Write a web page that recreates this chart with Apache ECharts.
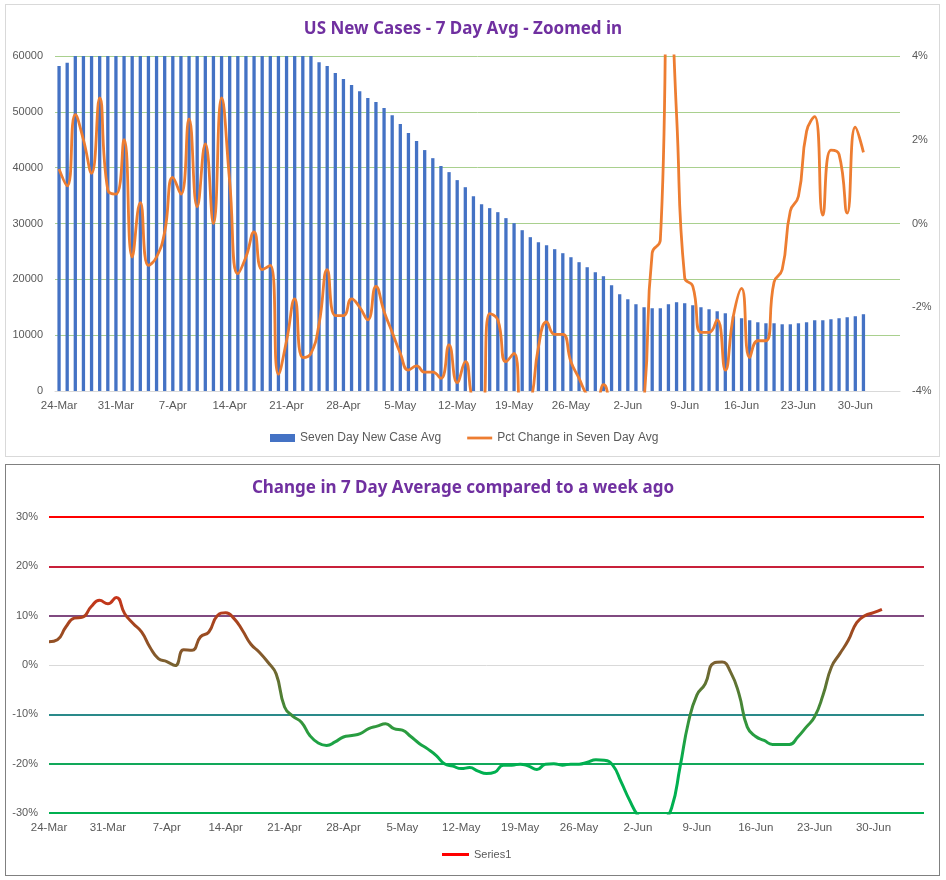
<!DOCTYPE html>
<html>
<head>
<meta charset="utf-8">
<script src="https://cdn.jsdelivr.net/npm/echarts@6/dist/echarts.min.js"></script>
<style>
html,body{margin:0;padding:0;background:#fff;width:946px;height:880px;overflow:hidden;}
#c1{position:absolute;left:5px;top:4px;width:935px;height:453px;border:1px solid #D9D9D9;box-sizing:border-box;}
#c2{position:absolute;left:5px;top:464px;width:935px;height:412px;border:1px solid #808080;box-sizing:border-box;}
</style>
</head>
<body>
<div id="c1"></div>
<div id="c2"></div>
<script>
// ---- data ----
const dates = [
 '24-Mar','25-Mar','26-Mar','27-Mar','28-Mar','29-Mar','30-Mar','31-Mar',
 '1-Apr','2-Apr','3-Apr','4-Apr','5-Apr','6-Apr','7-Apr','8-Apr','9-Apr','10-Apr',
 '11-Apr','12-Apr','13-Apr','14-Apr','15-Apr','16-Apr','17-Apr','18-Apr','19-Apr','20-Apr',
 '21-Apr','22-Apr','23-Apr','24-Apr','25-Apr','26-Apr','27-Apr','28-Apr','29-Apr','30-Apr',
 '1-May','2-May','3-May','4-May','5-May','6-May','7-May','8-May','9-May','10-May',
 '11-May','12-May','13-May','14-May','15-May','16-May','17-May','18-May','19-May','20-May',
 '21-May','22-May','23-May','24-May','25-May','26-May','27-May','28-May','29-May','30-May','31-May',
 '1-Jun','2-Jun','3-Jun','4-Jun','5-Jun','6-Jun','7-Jun','8-Jun','9-Jun','10-Jun',
 '11-Jun','12-Jun','13-Jun','14-Jun','15-Jun','16-Jun','17-Jun','18-Jun','19-Jun','20-Jun',
 '21-Jun','22-Jun','23-Jun','24-Jun','25-Jun','26-Jun','27-Jun','28-Jun','29-Jun','30-Jun',
 '1-Jul','2-Jul','3-Jul','4-Jul','5-Jul','6-Jul'
];

const caseAvg = [
 58200, 58800, 60800, 61500, 62300, 63100, 63300, 63700,
 64900, 64600, 65000, 64400, 64300, 64500, 65200, 66600, 66900, 68100,
 69000, 69300, 70400, 71000, 71500, 71200, 70500, 69900, 67500, 66500,
 64800, 63300, 61800, 60600, 58900, 58200, 56950, 55900, 54800, 53700,
 52500, 51750, 50700, 49400, 47800, 46200, 44760, 43150, 41700, 40300,
 39200, 37770, 36500, 34900, 33470, 32750, 32030, 30960, 30060, 28800,
 27550, 26650, 26110, 25400, 24680, 23960, 23070, 22170, 21270, 20560, 18940,
 17330, 16430, 15540, 15000, 14820, 14820, 15540, 15900, 15720, 15360,
 15000, 14640, 14280, 13920, 13390, 13030, 12670, 12310, 12130, 12130,
 11950, 11950, 12130, 12310, 12670, 12670, 12850, 13030, 13210, 13390,
 13750
];

const pctChange = [
 1.3, 0.9, 2.6, 2.0, 1.2, 3.0, 0.8, 0.7,
 2.0, -0.8, 0.5, -1.0, -0.8, -0.2, 1.1, 0.7, 2.5, 0.4,
 1.9, 0.0, 3.0, 1.0, -1.2, -0.8, -0.2, -1.1, -1.0, -3.6,
 -2.8, -1.8, -3.2, -3.1, -2.4, -1.1, -2.2, -2.2, -1.8, -2.0,
 -2.3, -1.5, -2.1, -2.6, -3.1, -3.5, -3.4, -3.55, -3.55, -3.7,
 -2.9, -3.8, -3.3, -4.3, -4.5, -2.15, -2.3, -3.3, -3.1, -4.6,
 -4.3, -2.95, -2.35, -2.65, -2.65, -3.3, -3.7, -4.1, -4.3, -3.85, -4.5,
 -5.0, -5.5, -5.0, -4.2, -0.7, -0.4, 6.5, 2.6, -1.3, -1.5,
 -2.6, -2.6, -2.3, -3.5, -2.2, -1.55, -3.2, -2.8, -2.8, -1.4,
 -1.1, 0.3, 0.65, 2.2, 2.55, 0.2, 1.75, 1.65, 0.25, 2.3,
 1.7
];

const weekChange = [
 4.7, 5.1, 7.7, 9.5, 9.7, 11.8, 13.1, 12.4, 13.7, 10.4,
 8.4, 6.7, 3.6, 1.3, 0.7, -0.1, 3.1, 3.0, 5.7, 6.7,
 10.0, 10.6, 9.4, 7.0, 4.2, 2.6, 0.6, -1.8, -8.5, -10.4,
 -11.6, -14.3, -15.8, -16.3, -15.6, -14.6, -14.3, -13.9, -12.9, -12.4,
 -11.9, -12.9, -13.2, -14.5, -15.9, -17.0, -18.3, -20.0, -20.5, -21.0,
 -20.8, -21.5, -22.0, -21.7, -20.3, -20.3, -20.1, -20.5, -21.2, -20.1,
 -20.0, -20.3, -20.1, -20.1, -19.7, -19.2, -19.3, -20.3, -23.7, -27.4,
 -30.5, -32.0, -32.5, -31.5, -29.0, -20.7, -11.6, -6.1, -3.8, 0.4,
 0.6, -1.4, -5.8, -12.6, -14.5, -15.3, -16.1, -16.1, -16.1, -14.6,
 -12.6, -10.5, -6.1, -0.4, 2.3, 5.0, 8.6, 10.0, 10.6, 11.3
];

const refLevels = [30, 20, 10, 0, -10, -20, -30];
const refColors = ['#FF0000', '#C8203A', '#804A80', '#D9D9D9', '#2A8A8A', '#12A85A', '#00B050'];

const LINE_ICON = 'path://M0,0 L27,0 L27,3 L0,3 Z';

// ---- chart 1 ----
const FONT = 'Liberation Sans';
const TITLE_FONT = 'Noto Sans';
const c1 = echarts.init(document.getElementById('c1'), null, {renderer: 'canvas'});
c1.setOption({
  animation: false,
  textStyle: {fontFamily: FONT},
  title: {
    text: 'US New Cases - 7 Day Avg - Zoomed in',
    left: 452, top: 11, textAlign: 'center',
    textStyle: {color: '#7030A0', fontSize: 17, fontWeight: 'bold', fontFamily: TITLE_FONT}
  },
  legend: {
    data: [
      {name: 'Seven Day New Case Avg', icon: 'rect'},
      {name: 'Pct Change in Seven Day Avg', icon: LINE_ICON}
    ],
    left: 259, top: 422, itemWidth: 25, itemHeight: 8, itemGap: 26,
    textStyle: {color: '#595959', fontSize: 12, fontFamily: FONT}
  },
  grid: {left: 49, right: 39, top: 51, bottom: 65},
  xAxis: {
    type: 'category', data: dates.slice(0, 104), boundaryGap: true,
    axisLine: {lineStyle: {color: '#D9D9D9'}}, axisTick: {show: false},
    axisLabel: {interval: 6, color: '#595959', fontSize: 11.5, margin: 9}
  },
  yAxis: [
    {
      type: 'value', min: 0, max: 60000, interval: 10000,
      axisLine: {show: false}, axisTick: {show: false},
      axisLabel: {color: '#595959', fontSize: 11, margin: 12, formatter: v => String(v)},
      splitLine: {lineStyle: {color: '#A9D08E', width: 1}}
    },
    {
      type: 'value', min: -4, max: 4, interval: 2, position: 'right',
      axisLine: {show: false}, axisTick: {show: false},
      axisLabel: {color: '#595959', fontSize: 11, margin: 12, formatter: '{value}%'},
      splitLine: {show: false}
    }
  ],
  series: [
    {
      name: 'Seven Day New Case Avg', type: 'bar', data: caseAvg, yAxisIndex: 0,
      barWidth: 3.3, itemStyle: {color: '#4472C4'}, clip: true
    },
    {
      name: 'Pct Change in Seven Day Avg', type: 'line', data: pctChange, yAxisIndex: 1,
      smooth: true, symbol: 'none', clip: true, z: 5,
      lineStyle: {color: '#ED7D31', width: 2.8}, itemStyle: {color: '#ED7D31'}
    }
  ]
});

// ---- chart 2 ----
const c2 = echarts.init(document.getElementById('c2'), null, {renderer: 'canvas'});
c2.setOption({
  animation: false,
  textStyle: {fontFamily: FONT},
  title: {
    text: 'Change in 7 Day Average compared to a week ago',
    left: 452, top: 10, textAlign: 'center',
    textStyle: {color: '#7030A0', fontSize: 17, fontWeight: 'bold', fontFamily: TITLE_FONT}
  },
  legend: {
    data: [{name: 'Series1', icon: LINE_ICON, itemStyle: {color: '#FF0000'}}],
    left: 431, top: 379, itemWidth: 27, itemHeight: 8,
    textStyle: {color: '#595959', fontSize: 11, fontFamily: FONT}
  },
  visualMap: {
    show: false, type: 'continuous', seriesIndex: 0, dimension: 1,
    min: -20, max: 14,
    inRange: {color: ['#00B050', '#2E9A3E', '#4E8034', '#7A6030', '#A0481F', '#C8341A']}
  },
  grid: {left: 43, right: 15, top: 52, bottom: 62},
  xAxis: {
    type: 'category', data: dates, boundaryGap: false,
    axisLine: {show: false}, axisTick: {show: false}, splitLine: {show: false},
    axisLabel: {interval: 6, color: '#595959', fontSize: 11.5, margin: 9}
  },
  yAxis: {
    type: 'value', min: -30, max: 30, interval: 10,
    axisLine: {show: false}, axisTick: {show: false}, splitLine: {show: false},
    axisLabel: {color: '#595959', fontSize: 11, margin: 11, formatter: '{value}%'}
  },
  series: [
    {
      name: 'Series1', type: 'line', data: weekChange, smooth: true, symbol: 'none',
      clip: true, z: 5, lineStyle: {width: 3}
    },
    {
      name: 'ref', type: 'line', data: [], z: 2,
      markLine: {
        silent: true, symbol: ['none', 'none'], label: {show: false}, animation: false,
        data: refLevels.map((v, i) => ({
          yAxis: v,
          lineStyle: {color: refColors[i], width: v === 0 ? 1 : 2.2, type: 'solid'}
        }))
      }
    }
  ]
});
</script>
</body>
</html>
